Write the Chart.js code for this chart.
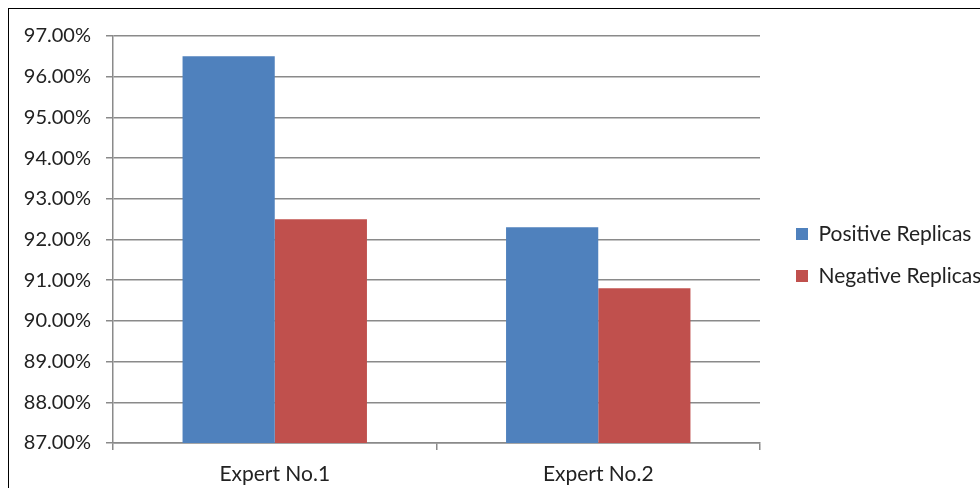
<!DOCTYPE html>
<html>
<head>
<meta charset="utf-8">
<script src="https://cdn.jsdelivr.net/npm/chart.js@4/dist/chart.umd.min.js"></script>
<style>
  html, body { margin: 0; padding: 0; background: #fff; overflow: hidden; }
  #frame { position: absolute; left: 8px; top: 8px; width: 1000px; height: 492px; border: 1px solid #000; }
  canvas { display: block; }
</style>
</head>
<body>
<div id="frame"><canvas id="bars" width="1000" height="492"></canvas></div>
<script>
const categories = ['Expert No.1', 'Expert No.2'];
const seriesNames = ['Positive Replicas', 'Negative Replicas'];
const positiveValues = [96.5, 92.3];
const negativeValues = [92.5, 90.8];
const yMin = 87;
const yMax = 97;

const FAMILY = 'Lato, "Open Sans", sans-serif';
const TEXT = '#222';
const GRID = '#8a8a8a';

// legend sits a bit away from the plot and is centred on the whole canvas
const legendSpacing = {
  id: 'legendSpacing',
  beforeInit(chart) {
    const fit = chart.legend.fit;
    chart.legend.fit = function () {
      fit.bind(chart.legend)();
      this.width = 249;
    };
  },
  afterLayout(chart) {
    chart.legend.left += 15;
    chart.legend.top = 0;
    chart.legend.bottom = chart.height;
  }
};

new Chart(document.getElementById('bars').getContext('2d'), {
  type: 'bar',
  data: {
    labels: categories,
    datasets: [
      { label: seriesNames[0], data: positiveValues, backgroundColor: '#4F81BD' },
      { label: seriesNames[1], data: negativeValues, backgroundColor: '#C0504D' }
    ]
  },
  options: {
    responsive: false,
    animation: false,
    devicePixelRatio: 1,
    categoryPercentage: 0.57,
    barPercentage: 1,
    layout: { padding: { top: 25 } },
    scales: {
      x: {
        grid: { offset: true, drawOnChartArea: false, drawTicks: true, tickLength: 7, color: GRID, lineWidth: 1.5 },
        border: { color: GRID, width: 1.5 },
        ticks: { font: { family: FAMILY, size: 21 }, color: TEXT, padding: 12 },
        afterFit: s => { s.height = 58; }
      },
      y: {
        min: yMin,
        max: yMax,
        ticks: {
          stepSize: 1,
          font: { family: FAMILY, size: 20 },
          color: TEXT,
          padding: 15,
          callback: v => v.toFixed(2) + '%'
        },
        grid: { color: GRID, lineWidth: 1.5, tickLength: 7 },
        border: { color: GRID, width: 1.5 },
        afterFit: s => { s.width = 104; }
      }
    },
    plugins: {
      legend: {
        position: 'right',
        labels: { font: { family: FAMILY, size: 21 }, color: TEXT, boxWidth: 12, boxHeight: 12, padding: 21 }
      },
      tooltip: { enabled: false }
    }
  },
  plugins: [legendSpacing]
});
</script>
</body>
</html>
